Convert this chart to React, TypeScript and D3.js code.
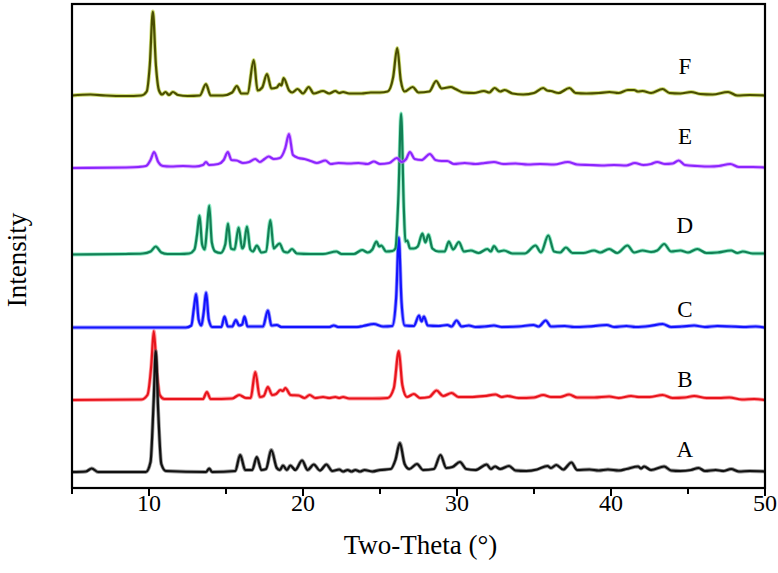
import React from 'react';
import * as d3 from 'd3';

type Pt = [number, number];

// two-theta (deg) vs intensity above each pattern's own baseline (arb. units)
const seriesA: Pt[] = [
  [5, 0], [5.9, 0.5], [6.28, 3.5], [6.7, 0], [9.8, 0], [10.1, 10], [10.3, 70], [10.44, 121], [10.6, 60], [10.8, 8], [11.1, 1],
  [13.7, 0], [13.91, 3.5], [14.1, 0], [15.6, 1], [15.92, 17], [16.25, 2], [16.7, 2], [17.0, 15], [17.3, 2], [17.6, 3],
  [17.94, 22], [18.3, 4], [18.5, 2], [18.7, 6.5], [18.95, 2], [19.18, 6.5], [19.5, 2], [19.94, 11.5], [20.3, 2], [20.7, 7.5],
  [21.1, 1.5], [21.52, 7.5], [21.9, 1], [22.35, 2.5], [22.6, 0.5], [22.9, 2], [23.15, 0.5], [23.4, 2], [23.7, 0.5], [24.0, 2],
  [24.5, 0.5], [25.0, 2], [25.7, 3], [26.0, 12], [26.29, 29], [26.6, 8], [26.9, 3], [27.4, 8], [27.8, 2], [28.5, 3],
  [28.93, 17], [29.3, 4], [29.7, 5], [30.19, 10], [30.6, 3], [31.2, 2], [31.93, 7.5], [32.2, 3], [32.47, 5.5], [32.8, 3],
  [33.38, 6], [33.8, 1.5], [34.5, 1], [35.2, 2.5], [35.87, 6], [36.1, 4], [36.45, 7], [36.9, 2.5], [37.43, 9.5], [37.8, 2],
  [38.6, 2.5], [39.2, 1.5], [39.8, 2.5], [40.5, 1.5], [41.0, 3], [41.76, 5.5], [41.95, 3.5], [42.15, 5.5], [42.6, 2],
  [43.45, 5.5], [43.9, 1.5], [44.5, 1], [45.2, 2], [45.69, 4], [46.1, 1], [46.8, 2], [47.3, 1], [47.8, 3], [48.3, 0.5],
  [49, 1], [50, 0.5],
];

const seriesB: Pt[] = [
  [5, 0], [9.5, 0.5], [9.9, 5], [10.15, 35], [10.31, 69], [10.5, 30], [10.7, 5], [11.0, 1], [13.5, 1], [13.76, 8], [14.0, 1],
  [15.4, 1.5], [15.86, 5], [16.3, 2], [16.6, 2], [16.9, 28], [17.2, 3], [17.45, 4], [17.72, 13], [18.0, 5], [18.25, 6],
  [18.53, 10], [18.7, 9], [18.85, 12], [19.2, 5], [19.72, 4.5], [20.1, 2], [20.43, 5], [20.8, 2], [21.3, 3], [21.7, 2],
  [22.1, 3], [22.35, 2], [22.6, 3], [23.0, 1.5], [24.5, 1.5], [25.5, 2], [25.9, 12], [26.22, 49], [26.45, 15], [26.75, 3],
  [27.2, 6], [27.6, 2], [28.2, 3], [28.67, 9.5], [29.1, 4], [29.65, 7], [30.1, 3], [31.0, 3], [31.8, 4], [32.5, 5.5],
  [32.9, 3], [33.27, 4], [34.0, 2], [35.0, 2.5], [35.6, 5], [36.1, 3], [36.7, 3], [37.28, 5.5], [37.8, 2.5], [38.9, 2.5],
  [39.88, 3.5], [40.5, 2], [41.3, 4], [41.8, 3], [42.5, 3], [43.35, 5], [44.0, 2], [44.8, 2.5], [45.4, 4], [46.2, 2],
  [47.0, 2], [47.68, 2.5], [48.5, 0.5], [49.3, 1], [50, 0],
];

const seriesC: Pt[] = [
  [5, 0], [12.4, 0], [12.75, 2], [12.92, 20], [13.06, 33.5], [13.22, 8], [13.4, 2], [13.55, 15], [13.71, 35], [13.88, 8],
  [14.1, 0.5], [14.7, 0.5], [14.9, 11], [15.12, 1], [15.4, 1], [15.64, 7.5], [15.85, 2], [16.05, 3], [16.2, 11], [16.4, 1],
  [17.4, 1], [17.72, 17], [17.95, 2], [18.3, 2.5], [18.6, 0.5], [21.7, 0.5], [22.0, 2], [22.3, 0.5], [23.5, 0.5],
  [23.9, 1.5], [24.6, 3.5], [25.2, 1], [25.8, 1.5], [26.05, 30], [26.22, 90], [26.4, 25], [26.6, 2], [27.2, 1.5],
  [27.53, 12], [27.7, 6], [27.85, 11], [28.1, 2], [28.8, 1.5], [29.37, 2.5], [29.65, 1], [29.97, 7], [30.3, 1], [30.77, 2],
  [31.2, 0.5], [31.8, 1], [32.4, 2], [32.9, 0.5], [34.0, 1], [34.96, 2.5], [35.3, 1], [35.76, 7], [36.1, 1], [37.0, 1.5],
  [37.6, 0.5], [38.5, 1], [39.73, 2.5], [40.2, 0.5], [41.0, 1.5], [41.6, 0.5], [42.5, 1.5], [43.35, 3.5], [43.9, 0.5],
  [44.6, 1], [45.4, 2], [46.1, 0.5], [46.9, 1.5], [47.8, 1], [48.6, 0.5], [49.4, 1], [50, 0],
];

const seriesD: Pt[] = [
  [5, 0], [8.5, 0.5], [9.6, 1], [10.1, 3], [10.44, 8], [10.8, 2], [11.2, 0.5], [12.0, 0.5], [12.6, 1], [12.95, 5],
  [13.12, 20], [13.28, 39], [13.45, 10], [13.62, 5], [13.76, 25], [13.91, 49], [14.08, 12], [14.3, 3], [14.65, 1.5],
  [14.95, 10], [15.13, 31], [15.32, 6], [15.55, 5], [15.82, 27], [16.05, 6], [16.15, 8], [16.36, 28], [16.58, 5],
  [16.75, 3], [17.0, 9], [17.3, 2], [17.6, 3], [17.88, 34.5], [18.1, 6], [18.25, 8], [18.48, 11], [18.75, 3], [19.0, 2],
  [19.29, 5.5], [19.6, 1], [20.5, 0.5], [21.3, 0.5], [22.17, 3], [22.5, 0.5], [23.3, 0.5], [23.84, 4.5], [24.2, 2],
  [24.5, 5], [24.77, 13], [24.95, 8], [25.08, 9], [25.4, 3], [25.8, 3.5], [26.0, 6], [26.2, 60], [26.37, 141], [26.55, 45],
  [26.65, 13], [26.77, 14], [26.95, 6], [27.2, 6], [27.45, 8], [27.75, 21], [27.95, 12], [28.15, 20], [28.4, 6], [28.8, 3],
  [29.2, 3], [29.47, 13], [29.75, 5], [30.12, 12.5], [30.45, 3], [30.9, 4], [31.4, 1.5], [31.97, 5.5], [32.2, 3], [32.4, 8.5],
  [32.7, 3], [33.05, 4], [33.6, 1], [34.4, 1], [35.1, 9], [35.45, 2], [35.93, 19], [36.3, 3], [36.7, 2], [37.07, 7],
  [37.5, 1.5], [38.2, 1.5], [38.9, 4], [39.3, 2], [39.88, 5.5], [40.4, 1.5], [41.07, 9], [41.5, 2], [42.05, 4], [42.6, 2.5],
  [43.0, 4], [43.45, 10.5], [43.9, 3], [44.5, 4], [45.0, 2], [45.6, 5.5], [46.2, 1.5], [46.9, 2], [47.8, 4], [48.2, 1.5],
  [48.56, 3], [49.2, 1], [50, 1],
];

const seriesE: Pt[] = [
  [5, 0], [8.5, 0.5], [9.3, 1], [9.8, 2], [10.1, 8], [10.33, 16], [10.6, 6], [10.9, 2], [11.4, 1.5], [12.2, 2], [13.0, 1.5],
  [13.5, 3], [13.7, 6], [13.9, 3], [14.5, 4], [14.85, 8], [15.12, 16], [15.35, 8], [15.7, 7.5], [16.1, 5], [16.5, 6],
  [16.9, 9], [17.2, 6], [17.5, 9], [17.77, 11.5], [18.1, 9], [18.5, 10], [18.85, 20], [19.09, 34], [19.35, 13], [19.72, 10],
  [20.1, 9], [20.5, 7], [20.9, 5], [21.45, 7.5], [21.8, 4], [22.3, 5], [23.0, 4.5], [23.6, 5], [24.2, 4], [24.6, 6.5],
  [25.0, 4], [25.6, 5], [26.1, 10], [26.4, 6], [26.7, 9], [26.94, 16], [27.25, 9], [27.7, 8], [28.24, 14], [28.6, 8],
  [29.0, 7], [29.37, 7], [29.8, 4], [30.5, 5], [31.2, 4], [31.8, 5], [32.4, 6], [33.0, 4], [33.8, 4.5], [34.6, 3.5],
  [35.4, 4], [36.3, 3.5], [37.2, 6], [37.8, 3.5], [38.6, 3], [39.4, 2.5], [40.2, 3], [41.0, 2.5], [41.55, 5], [42.1, 3],
  [42.6, 4], [43.0, 6], [43.5, 4], [44.0, 4.5], [44.4, 7.5], [44.8, 3], [45.6, 2], [46.4, 1.5], [47.0, 2], [47.75, 4],
  [48.3, 1], [49.2, 1], [50, 0.5],
];

const seriesF: Pt[] = [
  [5, 0], [6.2, 1], [7.2, 0], [8.5, -0.5], [9.5, 0], [9.85, 4], [10.05, 30], [10.25, 84], [10.45, 30], [10.65, 5],
  [10.85, 1], [11.07, 3.5], [11.3, 0.5], [11.55, 3.5], [11.9, 0.5], [12.5, -0.5], [13.3, 0], [13.7, 11.5], [14.0, 0],
  [14.8, 0], [15.4, 3], [15.7, 9.5], [16.0, 2], [16.4, 2], [16.8, 35.5], [17.05, 5], [17.35, 8], [17.66, 21.5], [17.95, 7],
  [18.3, 8], [18.48, 11.5], [18.6, 10], [18.74, 17.5], [19.1, 5], [19.3, 3], [19.65, 6.5], [20.0, 2], [20.37, 8.5],
  [20.7, 2], [21.3, 4.5], [21.7, 2], [22.1, 4.5], [22.35, 2.5], [22.6, 3.5], [23.0, 2], [23.8, 2], [24.4, 3], [25.0, 3],
  [25.5, 4], [25.85, 18], [26.12, 47.5], [26.35, 15], [26.6, 4], [27.12, 8.5], [27.5, 3], [28.2, 4], [28.65, 14.5],
  [29.0, 7], [29.6, 8.5], [29.9, 6.5], [30.4, 3], [31.1, 2.5], [31.75, 4.5], [32.1, 3], [32.44, 7.5], [32.8, 4],
  [33.1, 5.5], [33.6, 2], [34.3, 1], [35.0, 2.5], [35.6, 7.5], [35.85, 5], [36.1, 4.5], [36.6, 2.5], [37.3, 7.5],
  [37.7, 2.5], [38.4, 2], [39.2, 2.5], [39.9, 3.5], [40.5, 2.5], [41.1, 5.5], [41.5, 5.5], [41.75, 4], [42.05, 4.5],
  [42.6, 2.5], [43.35, 6.5], [43.8, 2.5], [44.5, 2], [45.2, 3.5], [45.8, 1.5], [46.6, 1], [47.6, 3.5], [48.2, 0], [49, 0.5],
  [50, 0],
];

const seriesNames = ['A', 'B', 'C', 'D', 'E', 'F'];
const seriesData = [seriesA, seriesB, seriesC, seriesD, seriesE, seriesF];
const seriesOffsets = [16, 88, 160.5, 233.5, 320, 392.5];
const labelLevels = [31, 101, 171, 255, 344, 414];
const majorTicks = [10, 20, 30, 40, 50];
const minorTicks = [5, 15, 25, 35, 45];

// draw order: B under A, C under D under E
const drawOrder = [1, 0, 2, 3, 4, 5];
const strokeColors = ['#111111', '#e8141c', '#1414ff', '#138055', '#8a26ff', '#4a4e00'];
const haloColors = ['#555555', '#ff5a60', '#5a5aff', '#3fdc9c', '#d07aff', '#aec41a'];

const W = 778, H = 573;
const left = 72, right = 765, top = 4, bottom = 488;
const serif = '"Liberation Serif", "Times New Roman", serif';

export default function App() {
  const x = d3.scaleLinear().domain([5, 50]).range([left, right]);
  const y = d3.scaleLinear().domain([0, bottom - top]).range([bottom, top]);

  return (
    <svg width={W} height={H} style={{ position: 'absolute', left: 0, top: 0, background: '#fff' }}>
      <defs>
        <clipPath id="plot">
          <rect x={left} y={top} width={right - left} height={bottom - top} />
        </clipPath>
      </defs>
      <g clipPath="url(#plot)">
        {drawOrder.map(i => {
          const off = seriesOffsets[i];
          const line = d3.line<Pt>()
            .x(d => x(d[0]))
            .y(d => y(d[1] + off))
            .curve(d3.curveMonotoneX);
          const d = line(seriesData[i]) || '';
          return (
            <g key={seriesNames[i]}>
              <path d={d} fill="none" stroke={haloColors[i]} strokeWidth={3.8} strokeOpacity={0.6} strokeLinejoin="round" />
              <path d={d} fill="none" stroke={strokeColors[i]} strokeWidth={2.2} strokeLinejoin="round" />
            </g>
          );
        })}
      </g>
      {/* frame */}
      <rect x={left} y={top} width={right - left} height={bottom - top} fill="none" stroke="#000" strokeWidth={2.2} />
      {majorTicks.map(t => (
        <g key={'M' + t}>
          <line x1={x(t)} x2={x(t)} y1={bottom} y2={bottom + 8} stroke="#000" strokeWidth={2} />
          <text x={x(t)} y={bottom + 23} textAnchor="middle" fontFamily={serif} fontSize={24} fill="#000">{t}</text>
        </g>
      ))}
      {minorTicks.map(t => (
        <line key={'m' + t} x1={x(t)} x2={x(t)} y1={bottom} y2={bottom + 6} stroke="#000" strokeWidth={2} />
      ))}
      <text x={(left + right) / 2 + 2} y={554} textAnchor="middle" fontFamily={serif} fontSize={27} fill="#000">Two-Theta (°)</text>
      <text transform={`translate(26, ${(top + bottom) / 2 + 14}) rotate(-90)`} textAnchor="middle" fontFamily={serif} fontSize={27} fill="#000">Intensity</text>
      {seriesNames.map((n, i) => (
        <text key={'l' + n} x={x(44.8)} y={y(labelLevels[i])} textAnchor="middle" fontFamily={serif} fontSize={23} fill="#000">{n}</text>
      ))}
    </svg>
  );
}
